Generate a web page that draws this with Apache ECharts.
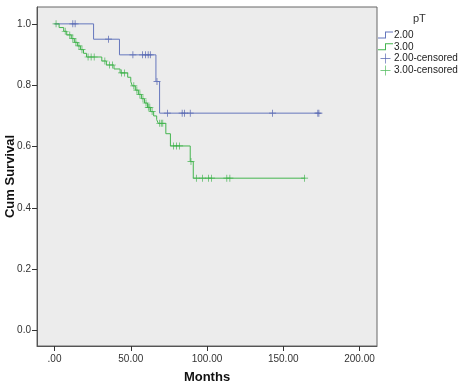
<!DOCTYPE html>
<html><head><meta charset="utf-8">
<script src="https://cdn.jsdelivr.net/npm/echarts@6/dist/echarts.min.js"></script>
<style>html,body{margin:0;padding:0;background:#fff}#c{width:460px;height:390px}</style>
</head><body><div id="c"></div>
<script>
var xTicks = [0, 50, 100, 150, 200];
var xTickLabels = ['.00', '50.00', '100.00', '150.00', '200.00'];
var yTicks = [0, 0.2, 0.4, 0.6, 0.8, 1.0];
var yTickLabels = ['0.0', '0.2', '0.4', '0.6', '0.8', '1.0'];
var legendNames = ['2.00', '3.00', '2.00-censored', '3.00-censored'];

// pT 2.00 Kaplan-Meier steps [months, survival]
var blueSteps = [[0,1.0],[25.6,0.95],[42.6,0.899],[66.5,0.812],[68.9,0.709],[173.4,0.709]];
var blueCensored = [[12,1.0],[13.5,1.0],[35.4,0.95],[51.4,0.899],[57.7,0.899],[59.7,0.899],[61.4,0.899],[62.8,0.899],[67.2,0.812],[74,0.709],[83.7,0.709],[85.3,0.709],[89,0.709],[143,0.709],[172.7,0.709],[173.4,0.709]];

// pT 3.00 Kaplan-Meier steps
var greenSteps = [[0,1.0],[3,0.988],[6,0.976],[8,0.964],[11,0.952],[13,0.94],[15,0.928],[17,0.916],[19,0.904],[21,0.892],[31,0.879],[34,0.866],[39,0.853],[43,0.84],[48,0.826],[50,0.812],[51,0.798],[53,0.784],[55,0.77],[57,0.756],[59,0.742],[61,0.728],[63,0.714],[65,0.7],[67,0.688],[68,0.676],[73,0.642],[76,0.602],[89,0.551],[91,0.497],[164.4,0.497]];
var greenCensored = [[1,1.0],[7,0.976],[10,0.964],[12,0.952],[14,0.94],[16,0.928],[18,0.916],[22,0.892],[24,0.892],[26,0.892],[33,0.879],[36,0.866],[38,0.866],[44,0.84],[46,0.84],[52,0.798],[54,0.784],[56,0.77],[58,0.756],[60,0.742],[61.5,0.728],[62.5,0.728],[64,0.714],[69,0.676],[70,0.676],[71,0.676],[78,0.602],[80,0.602],[82,0.602],[89.5,0.551],[93,0.497],[97,0.497],[101,0.497],[103,0.497],[113,0.497],[115,0.497],[164,0.497]];

var blueLine = '#6577bd', blueMark = '#2c3f9e';
var greenLine = '#44b54f', greenMark = '#22a832';
var stepIcon = 'path://M0,7H7V1H15V2H8V8H0Z';
var plusIcon = 'path://M7,0H8V7H15V8H8V15H7V8H0V7H7Z';
var plus = 'path://M4.5,0H5.5V4.5H10V5.5H5.5V10H4.5V5.5H0V4.5H4.5Z';

var chart = echarts.init(document.getElementById('c'));
chart.setOption({
  animation: false,
  backgroundColor: '#fff',
  title: {text: 'pT', left: 413, top: 13, padding: 0, textStyle: {fontSize: 11, fontWeight: 'normal', color: '#333', fontFamily: 'Arial, Liberation Sans'}},
  legend: {
    orient: 'vertical', left: 378, top: 30, padding: 0, itemGap: 1.8, itemWidth: 15, itemHeight: 10,
    data: [
      {name: legendNames[0], icon: stepIcon},
      {name: legendNames[1], icon: stepIcon},
      {name: legendNames[2], icon: plusIcon},
      {name: legendNames[3], icon: plusIcon}
    ],
    textStyle: {fontSize: 10, color: '#222', fontFamily: 'Arial, Liberation Sans', padding: [0,0,0,-4]}
  },
  grid: {left: 37, top: 7, right: 83, bottom: 44, outerBoundsMode: 'none', containLabel: false, show: true, backgroundColor: '#ececec', borderColor: '#666', borderWidth: 1},
  xAxis: {
    type: 'value', min: -11.5, max: 211.5,
    name: 'Months', nameLocation: 'middle', nameGap: 25, nameMoveOverlap: false,
    nameTextStyle: {fontSize: 13, fontWeight: 'bold', color: '#111', fontFamily: 'Arial, Liberation Sans'},
    axisLine: {show: true, onZero: false, lineStyle: {color: '#555'}},
    axisTick: {show: true, length: 5, customValues: xTicks, lineStyle: {color: '#333'}},
    axisLabel: {customValues: xTicks, fontSize: 10, color: '#333', margin: 8, fontFamily: 'Arial, Liberation Sans',
      formatter: function (v) { var i = xTicks.indexOf(v); return i >= 0 ? xTickLabels[i] : ''; }},
    splitLine: {show: false}
  },
  yAxis: {
    type: 'value', min: -0.05, max: 1.055,
    name: 'Cum Survival', nameLocation: 'middle', nameGap: 20, nameRotate: 90, nameMoveOverlap: false,
    nameTextStyle: {fontSize: 13, fontWeight: 'bold', color: '#111', fontFamily: 'Arial, Liberation Sans'},
    axisLine: {show: true, onZero: false, lineStyle: {color: '#555'}},
    axisTick: {show: true, length: 5, customValues: yTicks, lineStyle: {color: '#333'}},
    axisLabel: {customValues: yTicks, fontSize: 10, color: '#333', margin: 6, fontFamily: 'Arial, Liberation Sans',
      formatter: function (v) { var i = yTicks.indexOf(v); return i >= 0 ? yTickLabels[i] : ''; }},
    splitLine: {show: false}
  },
  series: [
    {name: legendNames[0], type: 'line', step: 'end', data: blueSteps, showSymbol: false, symbol: 'none',
      lineStyle: {color: blueLine, width: 1}, itemStyle: {color: blueLine}},
    {name: legendNames[1], type: 'line', step: 'end', data: greenSteps, showSymbol: false, symbol: 'none',
      lineStyle: {color: greenLine, width: 1}, itemStyle: {color: greenLine}},
    {name: legendNames[2], type: 'scatter', data: blueCensored, symbol: plus, symbolSize: 7,
      itemStyle: {color: blueMark}},
    {name: legendNames[3], type: 'scatter', data: greenCensored, symbol: plus, symbolSize: 7,
      itemStyle: {color: greenMark}}
  ]
});
</script></body></html>
